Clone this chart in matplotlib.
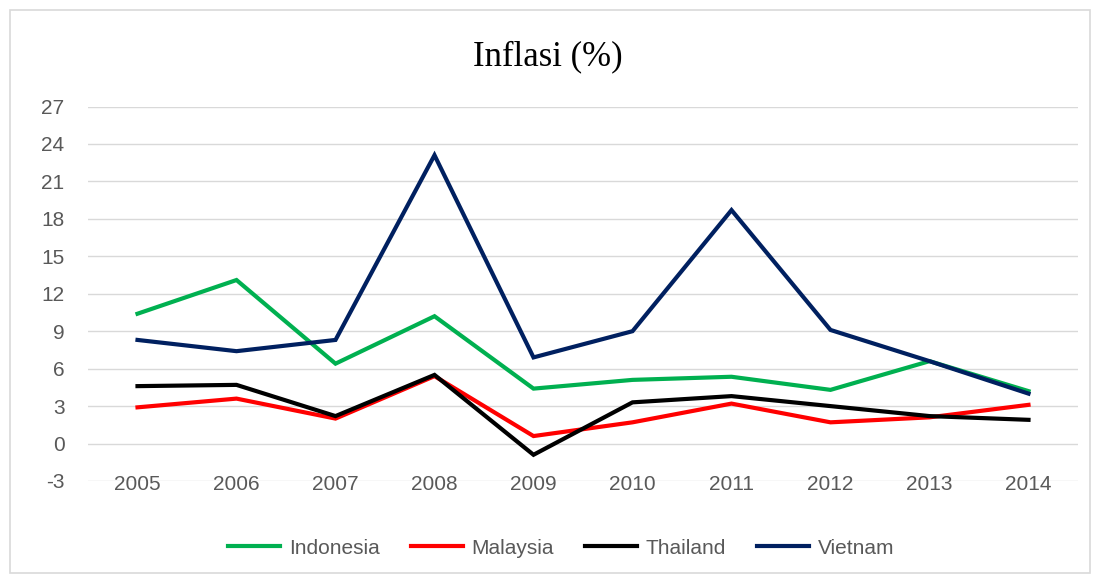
import numpy as np
import matplotlib.pyplot as plt
from matplotlib.patches import Rectangle
from matplotlib.transforms import offset_copy

plt.rcParams["axes.unicode_minus"] = False

# Inflation (%) by year
years = ["2005", "2006", "2007", "2008", "2009", "2010", "2011", "2012", "2013", "2014"]
indonesia = [10.4, 13.1, 6.4, 10.2, 4.4, 5.1, 5.35, 4.3, 6.6, 4.2]
malaysia = [2.9, 3.6, 2.0, 5.4, 0.6, 1.7, 3.2, 1.7, 2.1, 3.1]
thailand = [4.6, 4.7, 2.2, 5.5, -0.9, 3.3, 3.8, 3.0, 2.2, 1.9]
vietnam = [8.3, 7.4, 8.3, 23.1, 6.9, 9.0, 18.7, 9.1, 6.6, 4.0]

series = [
    ("Indonesia", indonesia, "#00B050"),
    ("Malaysia", malaysia, "#FF0000"),
    ("Thailand", thailand, "#000000"),
    ("Vietnam", vietnam, "#002060"),
]

fig = plt.figure(figsize=(10.96, 5.79), dpi=100)
ax = fig.add_axes([88 / 1096, 1 - 481 / 579, (1078 - 88) / 1096, (481 - 106.5) / 579])

# light outer frame like the spreadsheet chart area
fig.patches.append(Rectangle((10 / 1096, 6 / 579), 1080 / 1096, 563 / 579,
                             transform=fig.transFigure, fill=False,
                             edgecolor="#D9D9D9", linewidth=1.2))

x = np.arange(len(years))
for name, vals, col in series:
    ax.plot(x, vals, color=col, linewidth=3, label=name, solid_joinstyle="miter")

ax.set_xlim(-0.5, len(years) - 0.5)
ax.set_ylim(-3, 27)
ax.set_yticks(np.arange(-3, 28, 3))
ax.set_xticks(x)
ax.set_xticklabels([])
ax.grid(axis="y", color="#D9D9D9", linewidth=1)
ax.set_axisbelow(True)
for s in ax.spines.values():
    s.set_visible(False)
ax.tick_params(length=0, labelsize=15, labelcolor="#595959")
ax.tick_params(axis="y", pad=17)
for lbl in ax.get_yticklabels():
    lbl.set_family("Liberation Sans")

# year labels sit on the bottom gridline, as in the reference
lbl_tr = offset_copy(ax.transData, fig=fig, x=0, y=-3, units="dots")
for xi, yr in zip(x, years):
    ax.text(xi, -3, yr, ha="center", va="center", fontsize=15,
            family="Liberation Sans", color="#595959", transform=lbl_tr)

fig.text(0.5, 1 - 57 / 579, "Inflasi (%)", ha="center", va="center",
         fontsize=25, family="Liberation Serif", color="#000000")

leg = fig.legend(loc="center", bbox_to_anchor=(0.512, 1 - 548 / 579), ncol=4,
                 frameon=False, handlelength=2.5, columnspacing=1.5, handletextpad=0.4,
                 prop={"family": "Liberation Sans", "size": 15})
for t in leg.get_texts():
    t.set_color("#595959")

fig.savefig("out.png", dpi=100)
